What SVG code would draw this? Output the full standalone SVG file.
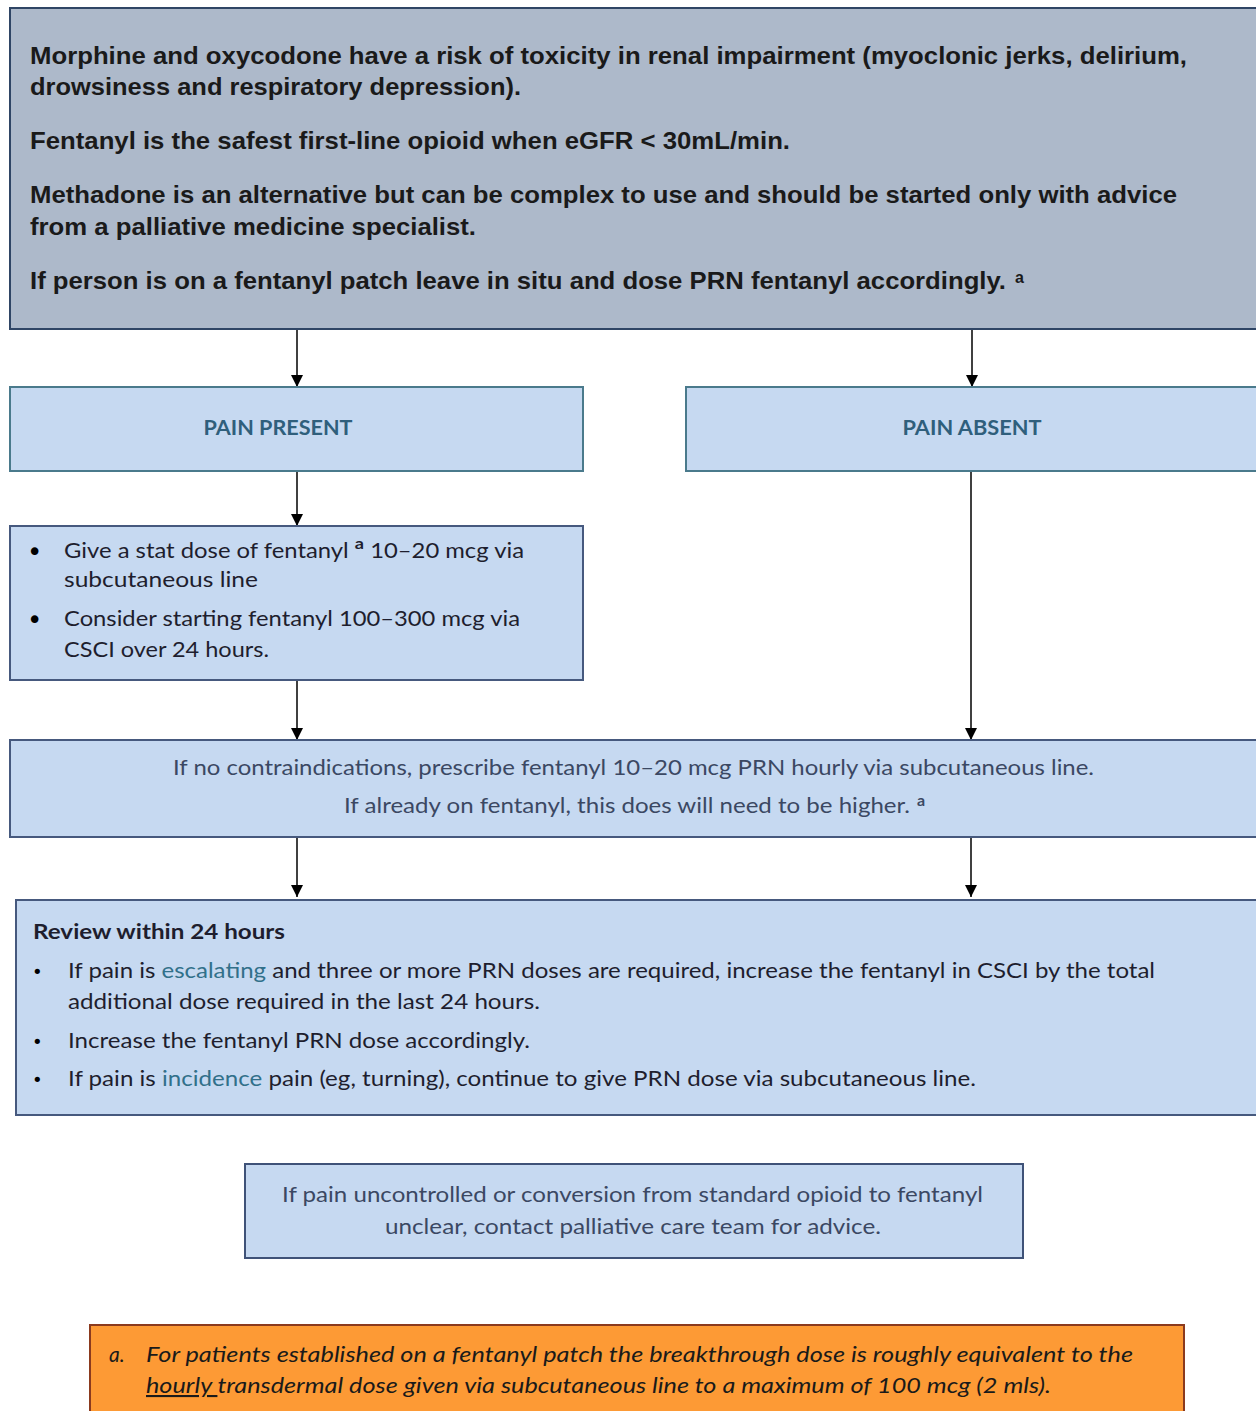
<svg xmlns="http://www.w3.org/2000/svg" width="1256" height="1411" viewBox="0 0 1256 1411">
<defs>
<marker id="arr" viewBox="0 0 12 12" refX="12" refY="6" markerWidth="13" markerHeight="12" markerUnits="userSpaceOnUse" orient="auto">
<path d="M0,0 L12,6 L0,12 Z" fill="#000"/>
</marker>
<style>
.top{fill:#adb9ca;stroke:#2f4565;stroke-width:2}
.lb{fill:#c6d9f1;stroke-width:2}
.teal{stroke:#4a7a8c}
.navy{stroke:#46597e}
.orange{fill:#fd9a35;stroke:#8b3a1e;stroke-width:2}
.tt{font-family:"Liberation Sans Narrow","Liberation Sans",Arial,sans-serif;font-weight:bold;font-size:24px;fill:#1a1a1a}
.hd{font-family:Lato,"Open Sans",sans-serif;font-weight:bold;font-size:20px;fill:#2f5f7c}
.bt{font-family:Lato,"Open Sans",sans-serif;font-size:21px;fill:#1e1e2e}
.sl{font-family:Lato,"Open Sans",sans-serif;font-size:21px;fill:#3b4863}
.rt{font-family:Lato,"Open Sans",sans-serif;font-weight:bold;font-size:21px;fill:#1e1e2e}
.hl{fill:#31708a}
.it{font-family:Lato,"Open Sans",sans-serif;font-style:italic;font-size:21px;fill:#1a1a1a}
.bul{font-family:"DejaVu Sans",sans-serif;font-size:18px;fill:#000}
.bigbul{font-family:"DejaVu Sans",sans-serif;font-size:26px;fill:#000}
.sup{font-size:16px;font-weight:bold}
.con{stroke:#000;stroke-width:1.5;fill:none}
</style>
</defs>

<g id="connectors">
<line class="con" x1="297" y1="330" x2="297" y2="387" marker-end="url(#arr)"/>
<line class="con" x1="972" y1="330" x2="972" y2="387" marker-end="url(#arr)"/>
<line class="con" x1="297" y1="471" x2="297" y2="526" marker-end="url(#arr)"/>
<line class="con" x1="297" y1="681" x2="297" y2="740" marker-end="url(#arr)"/>
<line class="con" x1="971" y1="471" x2="971" y2="740" marker-end="url(#arr)"/>
<line class="con" x1="297" y1="838" x2="297" y2="897" marker-end="url(#arr)"/>
<line class="con" x1="971" y1="838" x2="971" y2="897" marker-end="url(#arr)"/>
</g>

<g id="renal-warning">
<rect class="top" x="10" y="8" width="1260" height="321"/>
<text class="tt" x="30" y="64" textLength="1157" lengthAdjust="spacingAndGlyphs">Morphine and oxycodone have a risk of toxicity in renal impairment (myoclonic jerks, delirium,</text>
<text class="tt" x="30" y="95" textLength="491" lengthAdjust="spacingAndGlyphs">drowsiness and respiratory depression).</text>
<text class="tt" x="30" y="149" textLength="760" lengthAdjust="spacingAndGlyphs">Fentanyl is the safest first-line opioid when eGFR &lt; 30mL/min.</text>
<text class="tt" x="30" y="203" textLength="1147" lengthAdjust="spacingAndGlyphs">Methadone is an alternative but can be complex to use and should be started only with advice</text>
<text class="tt" x="30" y="235" textLength="446" lengthAdjust="spacingAndGlyphs">from a palliative medicine specialist.</text>
<text class="tt" x="30" y="289" textLength="976" lengthAdjust="spacingAndGlyphs">If person is on a fentanyl patch leave in situ and dose PRN fentanyl accordingly.</text>
<text class="tt sup" x="1015" y="283">a</text>
</g>

<g id="pain-present">
<rect class="lb teal" x="10" y="387" width="573" height="84"/>
<text class="hd" x="278" y="435" text-anchor="middle" textLength="149" lengthAdjust="spacingAndGlyphs">PAIN PRESENT</text>
</g>

<g id="pain-absent">
<rect class="lb teal" x="686" y="387" width="584" height="84"/>
<text class="hd" x="972" y="435" text-anchor="middle" textLength="139" lengthAdjust="spacingAndGlyphs">PAIN ABSENT</text>
</g>

<g id="pain-present-actions">
<rect class="lb navy" x="10" y="526" width="573" height="154"/>
<text class="bigbul" x="27" y="561">•</text>
<text class="bt" x="64" y="558" textLength="460" lengthAdjust="spacingAndGlyphs">Give a stat dose of fentanyl <tspan class="sup" baseline-shift="super">a</tspan> 10–20 mcg via</text>
<text class="bt" x="64" y="587" textLength="194" lengthAdjust="spacingAndGlyphs">subcutaneous line</text>
<text class="bigbul" x="27" y="629">•</text>
<text class="bt" x="64" y="626" textLength="456" lengthAdjust="spacingAndGlyphs">Consider starting fentanyl 100–300 mcg via</text>
<text class="bt" x="64" y="657" textLength="205" lengthAdjust="spacingAndGlyphs">CSCI over 24 hours.</text>
</g>

<g id="prescribe-prn">
<rect class="lb navy" x="10" y="740" width="1260" height="97"/>
<text class="sl" x="173" y="775" textLength="921" lengthAdjust="spacingAndGlyphs">If no contraindications, prescribe fentanyl 10–20 mcg PRN hourly via subcutaneous line.</text>
<text class="sl" x="344" y="813" textLength="566" lengthAdjust="spacingAndGlyphs">If already on fentanyl, this does will need to be higher.</text>
<text class="sl sup" x="917" y="806">a</text>
</g>

<g id="review">
<rect class="lb navy" x="16" y="900" width="1254" height="215"/>
<text class="rt" x="33" y="939" textLength="252" lengthAdjust="spacingAndGlyphs">Review within 24 hours</text>
<text class="bul" x="32" y="978">•</text>
<text class="bt" x="68" y="978" textLength="1087" lengthAdjust="spacingAndGlyphs">If pain is <tspan class="hl">escalating</tspan> and three or more PRN doses are required, increase the fentanyl in CSCI by the total</text>
<text class="bt" x="68" y="1009" textLength="472" lengthAdjust="spacingAndGlyphs">additional dose required in the last 24 hours.</text>
<text class="bul" x="32" y="1048">•</text>
<text class="bt" x="68" y="1048" textLength="462" lengthAdjust="spacingAndGlyphs">Increase the fentanyl PRN dose accordingly.</text>
<text class="bul" x="32" y="1086">•</text>
<text class="bt" x="68" y="1086" textLength="908" lengthAdjust="spacingAndGlyphs">If pain is <tspan class="hl">incidence</tspan> pain (eg, turning), continue to give PRN dose via subcutaneous line.</text>
</g>

<g id="contact-team">
<rect class="lb" x="245" y="1164" width="778" height="94" stroke="#3f5278"/>
<text class="sl" x="282" y="1202" textLength="701" lengthAdjust="spacingAndGlyphs">If pain uncontrolled or conversion from standard opioid to fentanyl</text>
<text class="sl" x="385" y="1234" textLength="496" lengthAdjust="spacingAndGlyphs">unclear, contact palliative care team for advice.</text>
</g>

<g id="footnote">
<rect class="orange" x="90" y="1325" width="1094" height="100"/>
<text class="it" x="109" y="1362">a.</text>
<text class="it" x="146" y="1362" textLength="987" lengthAdjust="spacingAndGlyphs">For patients established on a fentanyl patch the breakthrough dose is roughly equivalent to the</text>
<text class="it" x="146" y="1393" textLength="905" lengthAdjust="spacingAndGlyphs"><tspan text-decoration="underline">hourly </tspan>transdermal dose given via subcutaneous line to a maximum of 100 mcg (2 mls).</text>
</g>
</svg>
